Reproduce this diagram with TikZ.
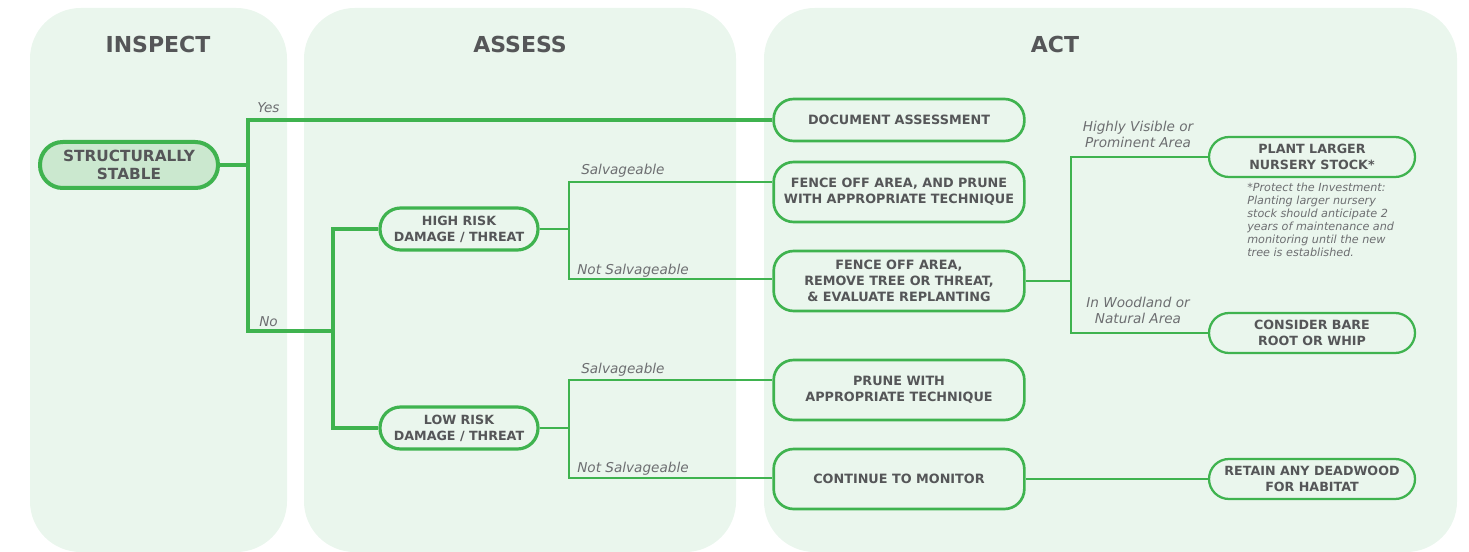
\documentclass[tikz,border=0pt]{standalone}
\usepackage{fontspec}
\setmainfont{DejaVu Sans}
\usepackage{tikz}
\usetikzlibrary{arrows.meta,positioning}
\definecolor{leaf}{HTML}{3FB34F}
\definecolor{mint}{HTML}{EAF6ED}
\definecolor{mintdark}{HTML}{CBE8CF}
\definecolor{ink}{HTML}{555658}
\definecolor{note}{HTML}{6D6E71}

\begin{document}
\begin{tikzpicture}[
  x=0.75pt,y=-0.75pt,
  panel/.style={fill=mint,rounded corners=38pt},
  title/.style={font=\bfseries\fontsize{16.5}{18}\selectfont,text=ink,inner sep=0pt},
  stablebox/.style={draw=leaf,fill=mintdark,line width=3pt,rounded corners=17pt,
              minimum width=133.5pt,minimum height=34.5pt,inner sep=0pt,align=center,
              text=ink,font=\bfseries\fontsize{11.5}{13.5}\selectfont},
  riskbox/.style={draw=leaf,line width=2.4pt,rounded corners=15.5pt,
              minimum width=118.5pt,minimum height=31.5pt,inner sep=0pt,align=center,
              text=ink,font=\bfseries\fontsize{9.5}{12}\selectfont},
  actbox/.style={draw=leaf,line width=2pt,rounded corners=15pt,
              minimum width=188pt,minimum height=45pt,inner sep=0pt,align=center,
              text=ink,font=\bfseries\fontsize{9.6}{12}\selectfont},
  endbox/.style={draw=leaf,line width=1.7pt,rounded corners=15pt,
              minimum width=154.5pt,minimum height=30pt,inner sep=0pt,align=center,
              text=ink,font=\bfseries\fontsize{9.5}{12}\selectfont},
  lbl/.style={font=\itshape\fontsize{10.2}{12}\selectfont,text=note,inner sep=0pt},
  trunk/.style={draw=leaf,line width=3pt},
  branch/.style={draw=leaf,line width=2.6pt},
  twig/.style={draw=leaf,line width=1.9pt}
]
\useasboundingbox (0,0) rectangle (1469,552);

% columns
\fill[panel] (30,8) rectangle (287,552);
\fill[panel] (304,8) rectangle (736,552);
\fill[panel] (764,8) rectangle (1457,552);
\node[title] (inspect) at (158,44) {INSPECT};
\node[title] (assess) at (520,44) {ASSESS};
\node[title] (act) at (1055,44) {ACT};

% boxes
\node[stablebox] (stable) at (129,165) {STRUCTURALLY\\STABLE};
\node[riskbox] (high) at (459,229) {HIGH RISK\\DAMAGE / THREAT};
\node[riskbox] (low) at (459,428) {LOW RISK\\DAMAGE / THREAT};
\node[actbox,minimum height=31.5pt] (doc) at (899,120) {DOCUMENT ASSESSMENT};
\node[actbox] (fenceprune) at (899,192) {FENCE OFF AREA, AND PRUNE\\WITH APPROPRIATE TECHNIQUE};
\node[actbox] (fenceremove) at (899,281) {FENCE OFF AREA,\\REMOVE TREE OR THREAT,\\\& EVALUATE REPLANTING};
\node[actbox] (prune) at (899,390) {PRUNE WITH\\APPROPRIATE TECHNIQUE};
\node[actbox] (monitor) at (899,479) {CONTINUE TO MONITOR};
\node[endbox] (plant) at (1312,157) {PLANT LARGER\\NURSERY STOCK*};
\node[endbox] (bare) at (1312,333) {CONSIDER BARE\\ROOT OR WHIP};
\node[endbox] (deadwood) at (1312,479) {RETAIN ANY DEADWOOD\\FOR HABITAT};
\node[lbl,font=\itshape\fontsize{8.4}{9.75}\selectfont,align=left,anchor=north west] (footnote) at (1247,183)
  {*Protect the Investment:\\Planting larger nursery\\stock should anticipate 2\\years of maintenance and\\monitoring until the new\\tree is established.};

% forks
\coordinate (fork) at (248,165);
\coordinate (nofork) at (333,331);
\coordinate (hsplit) at (569,229);
\coordinate (hsalv) at (569,182);
\coordinate (hnot) at (569,279);
\coordinate (lsplit) at (569,428);
\coordinate (lsalv) at (569,380);
\coordinate (lnot) at (569,478);
\coordinate (rsplit) at (1071,281);

% connectors
\draw[trunk] (stable.east) -- (fork);
\draw[trunk] (doc.west) -| (fork) |- (nofork);
\draw[branch] (high.west) -| (nofork) |- (low.west);
\draw[twig] (high.east) -- (hsplit);
\draw[twig] (fenceprune.west |- hsalv) -- (hsalv) -- (hnot) -- (fenceremove.west |- hnot);
\draw[twig] (low.east) -- (lsplit);
\draw[twig] (prune.west |- lsalv) -- (lsalv) -- (lnot) -- (monitor.west |- lnot);
\draw[twig] (fenceremove.east) -- (rsplit);
\draw[twig] (plant.west) -| (rsplit) |- (bare.west);
\draw[twig] (monitor.east) -- (deadwood.west);

% labels
\node[lbl,anchor=base west] (yes) at (257,113) {Yes};
\node[lbl,anchor=base west] (no) at (259,326) {No};
\node[lbl,anchor=base west] (hsalvtxt) at (581,175) {Salvageable};
\node[lbl,anchor=base west] (hnottxt) at (577,274) {Not Salvageable};
\node[lbl,anchor=base west] (lsalvtxt) at (581,373) {Salvageable};
\node[lbl,anchor=base west] (lnottxt) at (577,472) {Not Salvageable};
\node[lbl,align=center] (visible) at (1138,134) {Highly Visible or\\Prominent Area};
\node[lbl,align=center] (woodland) at (1138,310) {In Woodland or\\Natural Area};
\end{tikzpicture}
\end{document}
